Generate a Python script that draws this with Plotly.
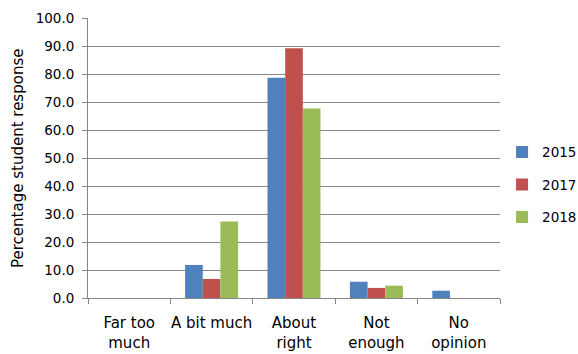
import plotly.graph_objects as go

categories = ["Far too<br>much", "A bit much", "About<br>right", "Not<br>enough", "No<br>opinion"]
years = ["2015", "2017", "2018"]
values_2015 = [0.0, 11.8, 78.7, 5.8, 2.6]
values_2017 = [0.0, 6.8, 89.2, 3.6, 0.0]
values_2018 = [0.0, 27.3, 67.7, 4.4, 0.0]
colors = ["#4F81BD", "#C0504D", "#9BBB59"]

font_family = "DejaVu Sans, Verdana, sans-serif"

fig = go.Figure()
for i, (yr, vals) in enumerate(zip(years, [values_2015, values_2017, values_2018])):
    fig.add_trace(go.Bar(
        x=categories, y=vals, name=yr, marker_color=colors[i],
        marker_line_width=0, legendgroup=yr,
    ))

fig.update_layout(
    width=578, height=354,
    margin=dict(l=88, r=78, t=18, b=56, autoexpand=False),
    plot_bgcolor="white", paper_bgcolor="white",
    barmode="group", bargap=0.357, bargroupgap=0,
    font=dict(family=font_family, color="#000000", size=13),
    legend=dict(
        x=1.005, y=0.405, xanchor="left", yanchor="middle",
        font=dict(size=13.5), tracegroupgap=12,
        bgcolor="rgba(0,0,0,0)",
    ),
    showlegend=True,
    annotations=[dict(
        text="Percentage student response", textangle=-90,
        xref="paper", yref="paper", x=-0.17, y=0.5,
        xanchor="center", yanchor="middle", showarrow=False,
        font=dict(size=15),
    )],
)
fig.update_xaxes(
    type="category", tickson="boundaries", ticks="outside", ticklen=5,
    tickcolor="#868686", showline=True, linecolor="#868686", linewidth=1,
    tickfont=dict(size=15), showgrid=False, tickangle=0, automargin=False,
    ticklabelstandoff=11,
)
fig.update_yaxes(
    range=[0, 100], dtick=10, tickformat=".1f", showgrid=True,
    gridcolor="#868686", gridwidth=1, showline=True, linecolor="#868686",
    ticks="outside", ticklen=5, tickcolor="#868686", zeroline=False,
    tickfont=dict(size=13.5), automargin=False, ticklabelstandoff=5,
)

fig.write_html("out.html")
